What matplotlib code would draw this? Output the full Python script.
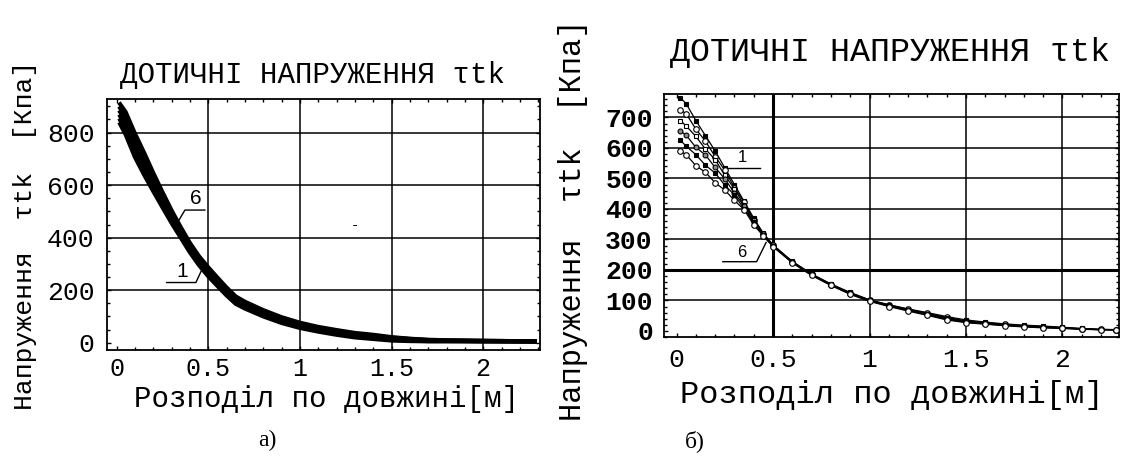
import matplotlib.pyplot as plt
from matplotlib.ticker import MultipleLocator

plt.rcParams["font.family"] = ["Liberation Mono", "DejaVu Sans Mono"]

# panel а) - six curves, they lie almost on top of each other
xa = [0.02, 0.05, 0.1, 0.15, 0.2, 0.25, 0.3, 0.35, 0.4, 0.45, 0.5, 0.55, 0.6, 0.65,
      0.7, 0.8, 0.9, 1.0, 1.1, 1.2, 1.3, 1.4, 1.5, 1.6, 1.7, 1.8, 2.0, 2.28]
ya1 = [832, 792, 707, 640, 577, 516, 456, 400, 344, 295, 253, 216, 180, 148,
       130, 100, 75, 56, 42, 30, 20, 14, 8, 6, 5, 5, 5, 5]
ya2 = [847, 810, 725, 656, 591, 528, 466, 408, 351, 302, 260, 222, 186, 154,
       135, 105, 79, 60, 46, 34, 24, 17, 11, 8, 6, 6, 5, 5]
ya3 = [862, 826, 743, 674, 605, 539, 475, 416, 358, 309, 267, 229, 192, 159,
       140, 110, 84, 64, 49, 37, 27, 20, 14, 10, 7, 7, 6, 5]
ya4 = [878, 844, 761, 690, 619, 551, 485, 424, 366, 315, 273, 235, 198, 165,
       146, 114, 88, 68, 53, 41, 31, 24, 16, 12, 9, 7, 6, 5]
ya5 = [893, 860, 779, 708, 633, 562, 494, 432, 373, 322, 280, 242, 204, 170,
       151, 119, 93, 72, 56, 44, 34, 27, 19, 14, 10, 8, 7, 5]
ya6 = [908, 878, 797, 724, 647, 574, 504, 440, 380, 329, 287, 248, 210, 176,
       156, 124, 97, 76, 60, 48, 37, 30, 21, 15, 11, 9, 7, 5]

# panel б) - six curves that spread out near x = 0
xb = [0.02, 0.05, 0.1, 0.15, 0.2, 0.25, 0.3, 0.35, 0.4, 0.45, 0.5, 0.6, 0.7, 0.8,
      0.9, 1.0, 1.1, 1.2, 1.3, 1.4, 1.5, 1.6, 1.7, 1.8, 1.9, 2.0, 2.1, 2.2, 2.28]
yb1 = [765, 745, 690, 640, 590, 535, 480, 425, 370, 320, 282, 228, 187, 154,
       126, 102, 86, 72, 60, 47, 36, 29, 23, 19, 16, 12, 8, 5, 4]
yb2 = [725, 712, 662, 622, 572, 527, 470, 422, 364, 319, 281, 227, 186, 152,
       125, 101, 85, 71, 58, 44, 33, 27, 21, 17, 14, 11, 7, 5, 4]
yb3 = [690, 672, 638, 596, 562, 510, 466, 412, 364, 314, 280, 226, 184, 153,
       123, 100, 84, 70, 57, 42, 31, 25, 20, 16, 13, 10, 7, 4, 4]
yb4 = [655, 642, 602, 577, 536, 499, 452, 410, 356, 316, 279, 225, 185, 151,
       122, 99, 83, 69, 55, 40, 30, 24, 19, 15, 12, 10, 6, 4, 4]
yb5 = [625, 606, 578, 543, 518, 478, 446, 400, 356, 310, 278, 224, 183, 150,
       121, 98, 82, 67, 53, 38, 28, 23, 18, 14, 11, 9, 6, 4, 4]
yb6 = [590, 578, 542, 520, 486, 462, 428, 398, 347, 312, 276, 223, 182, 149,
       120, 97, 80, 65, 51, 36, 27, 22, 17, 13, 10, 8, 5, 4, 4]

xticks = [0, 0.5, 1, 1.5, 2]
xticklabels = ["0", "0.5", "1", "1.5", "2"]
title = "ДОТИЧНІ НАПРУЖЕННЯ τtk"
xlabel = "Розподіл по довжині[м]"
ylabel = "Напруження  τtk  [Кпа]"

W, H = 1129, 462
fig = plt.figure(figsize=(W / 100, H / 100), dpi=100)


def px_axes(l, t, r, b):
    return fig.add_axes([l / W, 1 - b / H, (r - l) / W, (b - t) / H])


def style(ax, ymin_loc):
    ax.xaxis.set_minor_locator(MultipleLocator(0.1))
    ax.yaxis.set_minor_locator(MultipleLocator(ymin_loc))
    ax.tick_params(which="both", direction="in", top=True, right=True,
                   colors="black", width=1)
    ax.tick_params(which="major", length=3)
    ax.tick_params(which="minor", length=2.5)
    for s in ax.spines.values():
        s.set_linewidth(1.3)


# ---- а)
axa = px_axes(107, 99, 540, 350)
for y in [ya1, ya2, ya3, ya4, ya5, ya6]:
    axa.plot(xa, y, color="black", lw=3, solid_joinstyle="miter", zorder=3)
for gx in [0.5, 1, 1.5, 2]:
    axa.axvline(gx, color="black", lw=1.1, zorder=1)
for gy in [200, 400, 600, 800]:
    axa.axhline(gy, color="black", lw=1.1, zorder=1)
axa.set_xlim(-0.052, 2.31)
axa.set_ylim(-28, 928)
axa.set_xticks(xticks, xticklabels)
axa.set_yticks([0, 200, 400, 600, 800])
style(axa, 50)
axa.tick_params(axis="y", which="major", labelsize=19, pad=9)
axa.tick_params(axis="x", which="major", labelsize=18, pad=5)
axa.text(1.3, 448, "-", fontsize=10, ha="center", va="center")

# labels 6 and 1 with leaders
axa.text(0.43, 548, "6", family="Liberation Sans", fontsize=15, ha="center", va="center")
axa.plot([0.335, 0.373, 0.482], [460, 505, 505], color="black", lw=1)
axa.text(0.36, 272, "1", family="Liberation Sans", fontsize=15, ha="center", va="center")
axa.plot([0.273, 0.433, 0.464], [229, 229, 276], color="black", lw=1)

# ---- б)
axb = px_axes(664, 94, 1119, 337)
markers = [("s", "black", 3.5), ("o", "white", 4), ("s", "white", 3.5),
           ("o", "0.55", 3.5), ("s", "black", 3), ("o", "white", 4)]
for y, (m, fc, ms) in zip([yb1, yb2, yb3, yb4, yb5, yb6], markers):
    axb.plot(xb, y, color="black", lw=0.9, marker=m, ms=ms, mfc=fc,
             mec="black", mew=0.8, zorder=3)
for gx, lw in [(0.5, 2.2), (1, 1.1), (1.5, 1.1), (2, 1.1)]:
    axb.axvline(gx, color="black", lw=lw, zorder=1)
for gy in [100, 200, 300, 400, 500, 600, 700]:
    axb.axhline(gy, color="black", lw=2.2 if gy == 200 else 1.1, zorder=1)
axb.set_xlim(-0.065, 2.293)
axb.set_ylim(-20, 777)
axb.set_xticks(xticks, xticklabels)
axb.set_yticks([0, 100, 200, 300, 400, 500, 600, 700])
style(axb, 20)
axb.tick_params(axis="x", which="major", labelsize=19, pad=8)
axb.tick_params(axis="y", which="major", labelsize=19, pad=8)
for lab in axb.get_yticklabels():
    lab.set_fontweight("bold")

axb.text(0.34, 568, "1", family="Liberation Sans", fontsize=12, ha="center", va="center")
axb.plot([0.251, 0.433], [533, 533], color="black", lw=1)
axb.text(0.34, 257, "6", family="Liberation Sans", fontsize=12, ha="center", va="center")
axb.plot([0.24, 0.415, 0.464], [227, 227, 290], color="black", lw=1)

# ---- texts around the panels
fig.text(312 / W, 1 - 75 / H, title, fontsize=21, ha="center", va="center")
fig.text(890 / W, 1 - 53 / H, title, fontsize=24, ha="center", va="center")
fig.text(326 / W, 1 - 399 / H, xlabel, fontsize=21, ha="center", va="center")
fig.text(892 / W, 1 - 395 / H, xlabel, fontsize=23, ha="center", va="center")
fig.text(25 / W, 1 - 235 / H, ylabel, fontsize=19, rotation=90, ha="center", va="center")
fig.text(573 / W, 1 - 220 / H, ylabel, fontsize=22, rotation=90, ha="center", va="center")
fig.text(267 / W, 1 - 440 / H, "а)", family="Liberation Serif", fontsize=17, ha="center", va="center")
fig.text(695 / W, 1 - 441 / H, "б)", family="Liberation Serif", fontsize=17, ha="center", va="center")

fig.savefig("out.png", dpi=100)
